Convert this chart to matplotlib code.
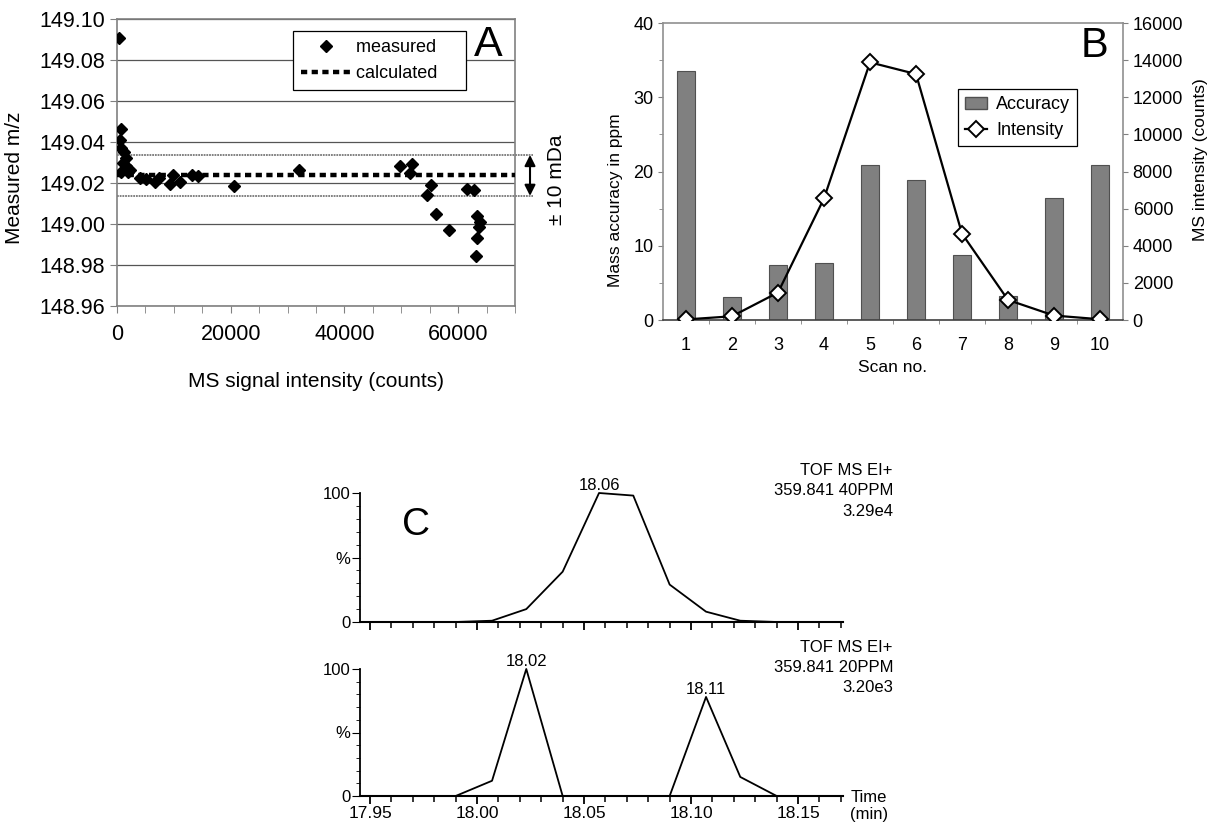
import numpy as np
import matplotlib.pyplot as plt
from matplotlib.lines import Line2D
from matplotlib.patches import Patch
from matplotlib.ticker import MultipleLocator, FixedLocator, NullFormatter

plt.rcParams['font.family'] = ['Liberation Sans', 'DejaVu Sans']

W, H = 1210, 826

# ---- panel A: measured m/z vs signal intensity
a_counts = [400, 760, 470, 760, 1170, 1520, 1050, 1640, 760, 2230, 1930,
            3980, 5160, 6620, 7380, 9260, 9850, 11000, 13240, 14240,
            20500, 31940, 49800, 51860, 51570, 55140, 54500, 56140, 58310,
            61590, 62760, 63300, 63900, 63700, 63400, 63100]
a_mz = [149.0906, 149.0463, 149.0408, 149.0371, 149.0350, 149.0322, 149.0298,
        149.0281, 149.0252, 149.0265, 149.0252,
        149.0224, 149.0220, 149.0203, 149.0224, 149.0195, 149.0241, 149.0203,
        149.0241, 149.0233,
        149.0184, 149.0262, 149.0285, 149.0294, 149.0249, 149.0189, 149.0143,
        149.0049, 148.9972,
        149.0172, 149.0167, 149.0037, 149.0008, 148.9985, 148.9932, 148.9842]
a_calc = 149.0237
a_tol = 0.010

# ---- panel B: accuracy and intensity per scan
b_scan = [1, 2, 3, 4, 5, 6, 7, 8, 9, 10]
b_accuracy = [33.5, 3.1, 7.4, 7.7, 20.9, 18.9, 8.7, 3.2, 16.4, 20.9]
b_intensity = [30, 200, 1480, 6550, 13880, 13250, 4650, 1080, 240, 40]

# ---- panel C: extracted ion chromatograms
c_time = [17.973, 17.990, 18.007, 18.023, 18.040, 18.057, 18.073, 18.090,
          18.107, 18.123, 18.140]
c_40ppm = [0, 0, 1, 10, 39, 100, 98, 29, 8, 1, 0]
c_20ppm = [0, 0, 12, 100, 0, 0, 0, 0, 78, 15, 0]
c_info_top = ['TOF MS EI+', '359.841 40PPM', '3.29e4']
c_info_bot = ['TOF MS EI+', '359.841 20PPM', '3.20e3']


def box(left, top, right, bottom):
    return [left / W, 1 - bottom / H, (right - left) / W, (bottom - top) / H]


def fx(x):
    return x / W


def fy(y):
    return 1 - y / H


fig = plt.figure(figsize=(12.1, 8.26), dpi=100)

# ================= A =================
axA = fig.add_axes(box(117, 19, 515, 306))
axA.set_xlim(0, 70000)
axA.set_ylim(148.96, 149.10)
axA.set_yticks(np.arange(148.96, 149.101, 0.02))
axA.yaxis.set_major_formatter(plt.FormatStrFormatter('%.2f'))
axA.set_xticks([0, 20000, 40000, 60000])
axA.xaxis.set_minor_locator(MultipleLocator(5000))
axA.grid(axis='y', color='#555555', lw=0.9)
axA.set_axisbelow(True)
for s in axA.spines.values():
    s.set_color('#808080')
    s.set_linewidth(1.2)
axA.tick_params(labelsize=15.5, color='#808080', length=5)
axA.tick_params(axis='x', pad=8)
axA.tick_params(which='minor', color='#808080', length=5)

for yv in (a_calc + a_tol, a_calc - a_tol):
    axA.plot([0, 73200], [yv, yv], color='#777777', lw=1.3,
             ls=(0, (1, 0.5)), clip_on=False, zorder=2)
axA.plot([0, 70000], [a_calc, a_calc], color='black', lw=3.2,
         ls=(0, (1.4, 1.0)), zorder=3)
axA.plot(a_counts, a_mz, ls='none', marker='D', ms=6.5, color='black',
         zorder=4)
axA.annotate('', xy=(72640, a_calc + a_tol), xytext=(72640, a_calc - a_tol),
             arrowprops=dict(arrowstyle='<|-|>', color='black', lw=1.5,
                             mutation_scale=16, shrinkA=0, shrinkB=0),
             annotation_clip=False)
fig.text(fx(557), fy(180), '± 10 mDa', rotation=90, fontsize=15,
         ha='center', va='center')
fig.text(fx(15), fy(178), 'Measured m/z', rotation=90, fontsize=15,
         ha='center', va='center')
fig.text(fx(316), fy(381), 'MS signal intensity (counts)', fontsize=15,
         ha='center', va='center')
fig.text(fx(488), fy(45), 'A', fontsize=31, ha='center', va='center')

hA = [Line2D([], [], ls='none', marker='D', ms=6.5, color='black'),
      Line2D([], [], color='black', lw=3.2, ls=(0, (1.4, 1.0)))]
legA = axA.legend(hA, ['measured    ', 'calculated    '], loc='upper left',
                  bbox_to_anchor=(fx(293), fy(31)),
                  bbox_transform=fig.transFigure, fontsize=13,
                  fancybox=False, framealpha=1, edgecolor='black',
                  borderaxespad=0, handlelength=2.8, handletextpad=0.25,
                  borderpad=0.45)
legA.get_frame().set_linewidth(0.9)

# ================= B =================
axB = fig.add_axes(box(663, 23, 1123, 320))
axB.bar(b_scan, b_accuracy, width=0.41, color='#808080',
        edgecolor='#505050', lw=0.8, zorder=2)
axB.set_xlim(0.5, 10.5)
axB.set_ylim(0, 40)
axB.set_yticks([0, 10, 20, 30, 40])
axB.yaxis.set_minor_locator(MultipleLocator(5))
axB.set_xticks(b_scan)
axB.xaxis.set_minor_locator(FixedLocator(np.arange(1.5, 10.5, 1)))
axB.tick_params(labelsize=13, color='#808080')
axB.tick_params(axis='x', which='major', length=0, pad=12)
axB.tick_params(which='minor', color='#808080', length=3)
for s in axB.spines.values():
    s.set_color('#909090')
    s.set_linewidth(1.2)
axB.spines['bottom'].set_color('#404040')

axB2 = axB.twinx()
axB2.plot(b_scan, b_intensity, color='black', lw=1.6, marker='D', ms=8,
          mfc='white', mec='black', mew=1.4, zorder=5)
axB2.set_ylim(0, 16000)
axB2.set_yticks(np.arange(0, 16001, 2000))
axB2.tick_params(labelsize=13, color='#808080')
for s in axB2.spines.values():
    s.set_visible(False)

fig.text(fx(616), fy(200), 'Mass accuracy in ppm', rotation=90,
         fontsize=12.5, ha='center', va='center')
fig.text(fx(1200), fy(160), 'MS intensity (counts)', rotation=90,
         fontsize=12.5, ha='center', va='center')
fig.text(fx(893), fy(368), 'Scan no.', fontsize=12.5, ha='center',
         va='center')
fig.text(fx(1094), fy(46), 'B', fontsize=30, ha='center', va='center')

hB = [Patch(facecolor='#808080', edgecolor='#505050'),
      Line2D([], [], color='black', lw=1.6, marker='D', ms=8, mfc='white',
             mec='black', mew=1.4)]
legB = axB2.legend(hB, ['Accuracy', 'Intensity'], loc='upper left',
                   bbox_to_anchor=(fx(958), fy(89)),
                   bbox_transform=fig.transFigure, fontsize=13,
                   fancybox=False, framealpha=1, edgecolor='black',
                   borderaxespad=0, handlelength=1.2, borderpad=0.4,
                   handletextpad=0.5)
legB.get_frame().set_linewidth(0.9)

# ================= C =================
def chrom_axes(rect, values, show_labels):
    ax = fig.add_axes(rect)
    ax.plot(c_time, values, color='black', lw=1.3, clip_on=False)
    ax.set_xlim(17.9453, 18.171)
    ax.set_ylim(0, 100)
    for side in ('top', 'right'):
        ax.spines[side].set_visible(False)
    ax.spines['left'].set_linewidth(1.3)
    ax.spines['bottom'].set_linewidth(1.5)
    ax.set_yticks([0, 50, 100])
    ax.set_yticklabels(['0', '%', '100'])
    ax.yaxis.set_minor_locator(MultipleLocator(10))
    ax.set_xticks([17.95, 18.00, 18.05, 18.10, 18.15])
    ax.xaxis.set_minor_locator(MultipleLocator(0.01))
    ax.tick_params(axis='y', labelsize=12, length=6, pad=1)
    ax.tick_params(axis='y', which='minor', length=3)
    ax.tick_params(axis='x', labelsize=12.5, length=6, width=1.3, pad=1)
    ax.tick_params(axis='x', which='minor', length=4, width=1.1)
    if not show_labels:
        ax.xaxis.set_major_formatter(NullFormatter())
    return ax


axC1 = chrom_axes(box(360, 493, 843, 622), c_40ppm, False)
axC2 = chrom_axes(box(360, 669, 843, 796), c_20ppm, True)

for ax, vals in ((axC1, c_40ppm), (axC2, c_20ppm)):
    v = np.array(vals)
    peaks = [i for i in range(1, len(v) - 1)
             if v[i] > 50 and v[i] >= v[i - 1] and v[i] >= v[i + 1]]
    for i in peaks:
        ax.annotate(f'{c_time[i]:.2f}', (c_time[i], v[i]),
                    xytext=(0, 0), textcoords='offset points',
                    ha='center', va='bottom', fontsize=12,
                    annotation_clip=False)

for lines, y0 in ((c_info_top, 470), (c_info_bot, 647)):
    for k, t in enumerate(lines):
        fig.text(fx(893), fy(y0 + k * 20.5), t, fontsize=12,
                 ha='right', va='center')

fig.text(fx(416), fy(525), 'C', fontsize=28, ha='center', va='center')
fig.text(fx(869), fy(797), 'Time', fontsize=12, ha='center', va='center')
fig.text(fx(869), fy(814), '(min)', fontsize=12, ha='center', va='center')

fig.savefig('out.png', dpi=100)
